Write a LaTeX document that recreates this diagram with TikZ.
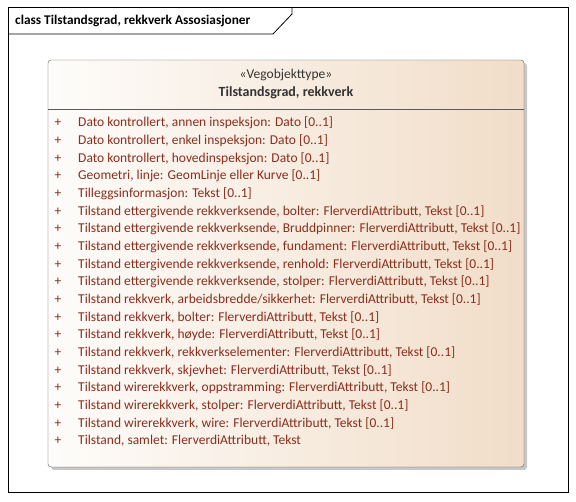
\documentclass[tikz,border=0pt]{standalone}
\usepackage{fontspec}
\setmainfont{Carlito}
\definecolor{attrred}{HTML}{8A2E1E}
\definecolor{peach}{HTML}{F1DDC8}
\definecolor{boxline}{HTML}{5A5A5A}

\begin{document}
\begin{tikzpicture}[x=1pt,y=-1pt,
  txt/.style={inner sep=0pt,font=\fontsize{13.5}{15}\selectfont},
  attr/.style={txt,anchor=west,text=attrred},
  plus/.style={txt,text=attrred}]
  \useasboundingbox (0,0) rectangle (576,502);
  \coordinate (f1) at (8,8);
  \coordinate (f2) at (568,493);
  \coordinate (c1) at (48,60);
  \coordinate (c2) at (524,467);

  % frame and its tab
  \draw[line width=1pt] (f1) rectangle (f2);
  \draw[line width=0.8pt] (8,34) -- (273,34) -- (292,14) -- (292,8);
  \node[txt,anchor=west,font=\fontsize{13.3}{14}\selectfont\bfseries] (title) at (15,21)
    {class Tilstandsgrad, rekkverk Assosiasjoner};

  % class box
  \fill[black!22,rounded corners=3pt] (51,63) rectangle (527,470);
  \draw[boxline,rounded corners=3pt,shading angle=60,
    left color=white!92!peach,right color=peach] (c1) rectangle (c2);
  \draw[boxline] (48,109) -- (524,109);
  \node[txt,text=black!80] (stereo) at (286,75) {«Vegobjekttype»};
  \node[txt,text=black!80,font=\fontsize{14}{15}\selectfont\bfseries] (name) at (286,93)
    {Tilstandsgrad, rekkverk};

  \foreach \t [count=\i] in {
    {Dato kontrollert, annen inspeksjon: Dato [0..1]},
    {Dato kontrollert, enkel inspeksjon: Dato [0..1]},
    {Dato kontrollert, hovedinspeksjon: Dato [0..1]},
    {Geometri, linje: GeomLinje eller Kurve [0..1]},
    {Tilleggsinformasjon: Tekst [0..1]},
    {Tilstand ettergivende rekkverksende, bolter: FlerverdiAttributt, Tekst [0..1]},
    {Tilstand ettergivende rekkverksende, Bruddpinner: FlerverdiAttributt, Tekst [0..1]},
    {Tilstand ettergivende rekkverksende, fundament: FlerverdiAttributt, Tekst [0..1]},
    {Tilstand ettergivende rekkverksende, renhold: FlerverdiAttributt, Tekst [0..1]},
    {Tilstand ettergivende rekkverksende, stolper: FlerverdiAttributt, Tekst [0..1]},
    {Tilstand rekkverk, arbeidsbredde/sikkerhet: FlerverdiAttributt, Tekst [0..1]},
    {Tilstand rekkverk, bolter: FlerverdiAttributt, Tekst [0..1]},
    {Tilstand rekkverk, høyde: FlerverdiAttributt, Tekst [0..1]},
    {Tilstand rekkverk, rekkverkselementer: FlerverdiAttributt, Tekst [0..1]},
    {Tilstand rekkverk, skjevhet: FlerverdiAttributt, Tekst [0..1]},
    {Tilstand wirerekkverk, oppstramming: FlerverdiAttributt, Tekst [0..1]},
    {Tilstand wirerekkverk, stolper: FlerverdiAttributt, Tekst [0..1]},
    {Tilstand wirerekkverk, wire: FlerverdiAttributt, Tekst [0..1]},
    {Tilstand, samlet: FlerverdiAttributt, Tekst}}
  {
    \node[plus] (plus\i) at (58,{123+(\i-1)*17.67}) {+};
    \node[attr] (attr\i) at (78,{123+(\i-1)*17.67}) {\t};
  }
\end{tikzpicture}
\end{document}
